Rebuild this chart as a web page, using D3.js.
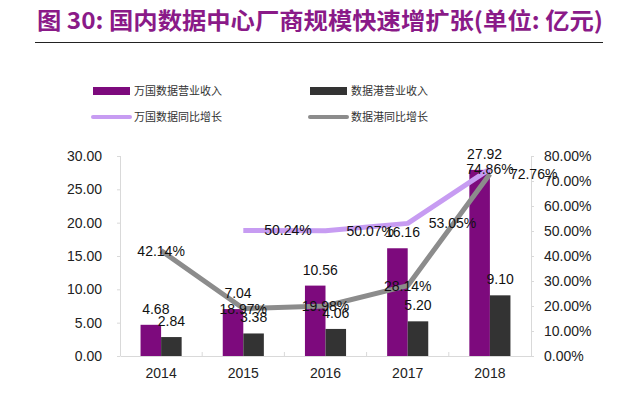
<!DOCTYPE html>
<html>
<head>
<meta charset="utf-8">
<script src="https://cdn.jsdelivr.net/npm/d3@7"></script>
<style>
	body { margin: 0; background: #fff; }
	svg text { font-family: "Liberation Sans", Arial, sans-serif; }
	.cjk { font-family: "Noto Sans CJK SC", sans-serif; }
</style>
</head>
<body>
<div class="chart"></div>
<script>

var years = ['2014', '2015', '2016', '2017', '2018'];
var wanguoRevenue = [4.68, 7.04, 10.56, 16.16, 27.92];
var sdgRevenue = [2.84, 3.38, 4.06, 5.20, 9.10];
var wanguoGrowth = [null, 50.24, 50.07, 53.05, 74.86];
var sdgGrowth = [42.14, 18.97, 19.98, 28.14, 72.76];
var leftTicks = [0, 5, 10, 15, 20, 25, 30];
var rightTicks = [0, 10, 20, 30, 40, 50, 60, 70, 80];

var chart = (function() {

	var init = function() {

		var svg = d3.select('.chart')
					.append('svg')
					.attr('width', 640)
					.attr('height', 405)

		drawTitle(svg)
		drawLegend(svg)
		drawPlot(svg)
	}

	var drawTitle = function(svg) {

		svg.append('text')
			.attr('class', 'cjk')
			.attr('x', 37)
			.attr('y', 29)
			.attr('textLength', 566)
			.attr('lengthAdjust', 'spacingAndGlyphs')
			.style('font-size', '23px')
			.style('font-weight', 'bold')
			.attr('fill', '#8a1a88')
			.text('图 30: 国内数据中心厂商规模快速增扩张(单位: 亿元)')

		svg.append('line')
			.attr('x1', 35).attr('x2', 603)
			.attr('y1', 42.5).attr('y2', 42.5)
			.attr('stroke', '#222')
			.attr('stroke-width', 1)
	}

	var drawLegend = function(svg) {

		var items = [
			{ name: '万国数据营业收入', type: 'bar', color: '#7d0a7d', x: 93, y: 91 },
			{ name: '数据港营业收入', type: 'bar', color: '#333333', x: 310, y: 91 },
			{ name: '万国数据同比增长', type: 'line', color: '#c79cf2', x: 93, y: 117 },
			{ name: '数据港同比增长', type: 'line', color: '#8c8c8c', x: 310, y: 117 }
		];

		var g = svg.append('g');

		items.forEach(function(d) {
			if (d.type === 'bar') {
				g.append('rect')
					.attr('x', d.x).attr('y', d.y - 4)
					.attr('width', 37).attr('height', 8)
					.attr('fill', d.color)
			} else {
				g.append('line')
					.attr('x1', d.x).attr('x2', d.x + 37)
					.attr('y1', d.y).attr('y2', d.y)
					.attr('stroke', d.color)
					.attr('stroke-width', 4)
					.attr('stroke-linecap', 'round')
			}
			g.append('text')
				.attr('class', 'cjk')
				.attr('x', d.x + 41)
				.attr('y', d.y + 4)
				.style('font-size', '11px')
				.attr('fill', '#333')
				.text(d.name)
		});
	}

	var drawPlot = function(svg) {

		var left = 120, right = 531, top = 156, bottom = 356;

		var x = d3.scaleBand().domain(years).range([left, right]);
		var y = d3.scaleLinear().domain([0, 30]).range([bottom, top]);
		var y2 = d3.scaleLinear().domain([0, 80]).range([bottom, top]);
		var barW = x.bandwidth() * 0.25;
		var cx = function(d, i) { return x(years[i]) + x.bandwidth() / 2; };

		// axes
		var leftAxis = svg.append('g')
			.attr('transform', 'translate(' + left + ',0)')
			.call(d3.axisLeft(y).tickValues(leftTicks).tickSize(3).tickPadding(15)
				.tickFormat(d3.format('.2f')))

		var rightAxis = svg.append('g')
			.attr('transform', 'translate(' + right + ',0)')
			.call(d3.axisRight(y2).tickValues(rightTicks).tickSize(3).tickPadding(10)
				.tickFormat(function(d) { return d.toFixed(2) + '%'; }))

		var bottomAxis = svg.append('g')
			.attr('transform', 'translate(0,' + bottom + ')')
			.call(d3.axisBottom(x).tickSize(0).tickPadding(12))

		// small ticks between the categories
		svg.append('g').selectAll('line')
			.data(years.slice(1))
			.enter()
				.append('line')
				.attr('x1', function(d) { return x(d); })
				.attr('x2', function(d) { return x(d); })
				.attr('y1', bottom - 4).attr('y2', bottom)
				.attr('stroke', '#d9d9d9')

		;[leftAxis, rightAxis, bottomAxis].forEach(function(a) {
			a.select('.domain').attr('stroke', '#d9d9d9')
			a.selectAll('.tick line').attr('stroke', '#d9d9d9')
			a.selectAll('text').attr('fill', '#222').style('font-size', '14px')
		});
		rightAxis.select('.domain').attr('d', 'M0.5,' + top + 'V' + bottom)
		leftAxis.select('.domain').attr('d', 'M0.5,' + top + 'V' + bottom)

		// bars
		svg.append('g').selectAll('rect')
			.data(wanguoRevenue)
			.enter()
				.append('rect')
				.attr('x', function(d, i) { return cx(d, i) - barW; })
				.attr('y', function(d) { return y(d); })
				.attr('width', barW)
				.attr('height', function(d) { return bottom - y(d); })
				.attr('fill', '#7d0a7d')

		svg.append('g').selectAll('rect')
			.data(sdgRevenue)
			.enter()
				.append('rect')
				.attr('x', function(d, i) { return cx(d, i); })
				.attr('y', function(d) { return y(d); })
				.attr('width', barW)
				.attr('height', function(d) { return bottom - y(d); })
				.attr('fill', '#333333')

		// lines
		var line = d3.line()
			.defined(function(d) { return d != null; })
			.x(cx)
			.y(function(d) { return y2(d); })

		svg.append('path')
			.datum(sdgGrowth)
			.attr('d', line)
			.attr('fill', 'none')
			.attr('stroke', '#8c8c8c')
			.attr('stroke-width', 5)
			.attr('stroke-linejoin', 'round')

		svg.append('path')
			.datum(wanguoGrowth)
			.attr('d', line)
			.attr('fill', 'none')
			.attr('stroke', '#c79cf2')
			.attr('stroke-width', 5)
			.attr('stroke-linejoin', 'round')

		// value labels
		var labels = svg.append('g')
			.style('font-size', '14px')
			.attr('fill', '#111')

		wanguoRevenue.forEach(function(d, i) {
			labels.append('text')
				.attr('x', cx(d, i) - barW / 2 + 5)
				.attr('y', y(d) - 11)
				.attr('text-anchor', 'middle')
				.text(d.toFixed(2))
		});

		sdgRevenue.forEach(function(d, i) {
			labels.append('text')
				.attr('x', cx(d, i) + barW / 2)
				.attr('y', y(d) - 11)
				.attr('text-anchor', 'middle')
				.text(d.toFixed(2))
		});

		var last = years.length - 1;

		wanguoGrowth.forEach(function(d, i) {
			if (d == null) return;
			var isLast = i === last;
			labels.append('text')
				.attr('x', isLast ? cx(d, i) : cx(d, i) + 21)
				.attr('y', y2(d) + 5)
				.attr('text-anchor', isLast ? 'middle' : 'start')
				.text(d.toFixed(2) + '%')
		});

		sdgGrowth.forEach(function(d, i) {
			var isLast = i === last;
			labels.append('text')
				.attr('x', isLast ? cx(d, i) + 20 : cx(d, i))
				.attr('y', y2(d) + 5)
				.attr('text-anchor', isLast ? 'start' : 'middle')
				.text(d.toFixed(2) + '%')
		});
	}

	return {
		'init': init
	}

})();

chart.init();
</script>
</body>
</html>
